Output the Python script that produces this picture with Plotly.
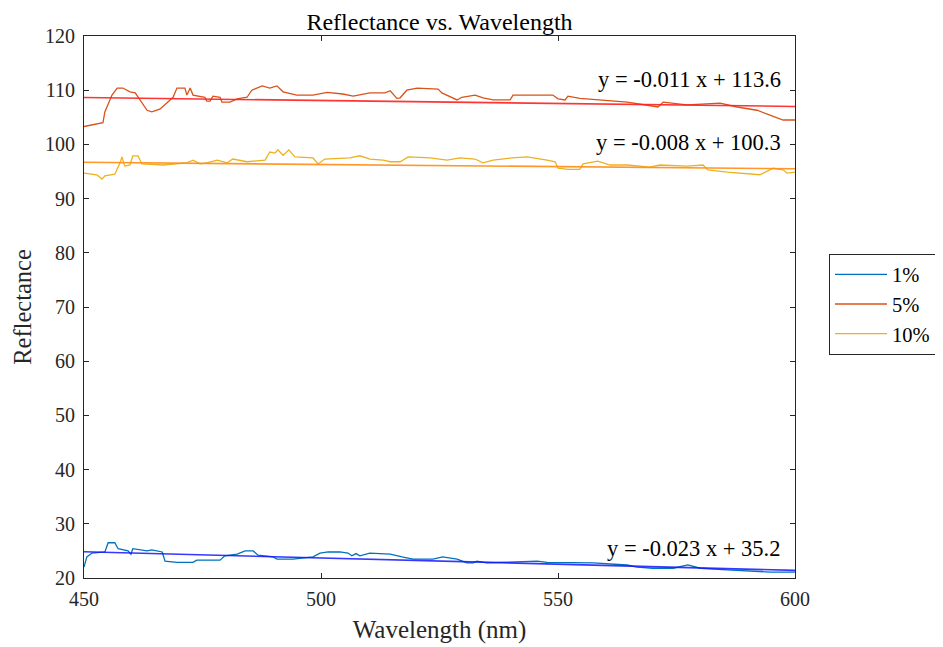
import plotly.graph_objects as go

# ---- data ----
x1 = [450, 450.6, 451.7, 454.4, 455.1, 456.5, 457.2, 459.3, 459.9, 460.3, 463.3, 464.3, 466.5, 467.1,
      469.6, 473.0, 473.8, 478.7, 479.7, 482.3, 484.0, 485.7, 486.7, 489.9, 490.7, 494.1, 498.3, 499.8,
      501.5, 504.0, 505.7, 506.5, 507.4, 508.2, 510.3, 514.6, 517.1, 519.4, 523.6, 525.7, 528.7, 530.8,
      532.1, 532.9, 535.0, 538.4, 545.6, 547.7, 552.5, 557.4, 564.6, 566.7, 570.0, 574.3, 577.4, 580.0,
      585.7, 591.1, 594.7, 600]
y1 = [22.0, 23.9, 24.6, 24.8, 26.5, 26.5, 25.4, 25.0, 24.4, 25.4, 25.0, 25.2, 24.8, 23.1,
      22.9, 22.9, 23.3, 23.3, 24.1, 24.4, 25.0, 25.0, 24.2, 23.9, 23.5, 23.5, 23.9, 24.6,
      24.8, 24.8, 24.6, 24.1, 24.5, 24.1, 24.6, 24.4, 23.9, 23.5, 23.5, 23.9, 23.5, 22.8,
      22.8, 23.1, 22.8, 22.9, 23.1, 22.9, 22.8, 22.8, 22.4, 22.0, 21.8, 21.8, 22.4, 21.8,
      21.5, 21.3, 21.1, 21.1]

x5 = [450, 454.0, 454.4, 455.9, 457.0, 458.2, 459.7, 460.8, 463.3, 464.3, 466.0, 467.7, 468.8, 469.6,
      471.3, 471.7, 472.4, 473.0, 475.5, 475.9, 476.6, 477.2, 478.7, 479.1, 480.8, 482.3, 484.4, 485.4,
      487.6, 489.2, 490.7, 492.0, 494.9, 498.3, 501.3, 504.6, 506.8, 510.3, 513.5, 514.6, 516.0, 516.7,
      518.1, 520.3, 524.7, 525.5, 527.6, 528.7, 529.7, 532.5, 534.2, 536.3, 539.9, 540.5, 548.9, 550.0,
      551.5, 552.1, 554.6, 558.9, 564.6, 571.1, 572.2, 577.2, 584.2, 587.8, 592.0, 594.7, 597.5, 600]
y5 = [103.3, 104.0, 106.0, 109.1, 110.4, 110.4, 109.7, 109.5, 106.3, 106.0, 106.5, 107.8, 108.7, 110.4,
      110.4, 109.1, 110.4, 109.1, 108.7, 108.0, 108.0, 108.9, 108.7, 107.8, 107.8, 108.4, 108.7, 110.0,
      110.8, 110.4, 110.8, 109.7, 109.1, 109.1, 109.6, 109.3, 108.9, 109.5, 109.5, 109.9, 108.5, 108.6,
      110.0, 110.4, 110.2, 109.5, 108.6, 108.2, 108.7, 109.1, 108.6, 108.2, 108.2, 109.1, 109.1, 108.4,
      108.2, 108.9, 108.5, 108.2, 107.8, 106.9, 107.8, 107.3, 107.6, 106.9, 106.3, 105.4, 104.5, 104.5]

x10 = [450, 452.7, 453.8, 454.4, 456.5, 457.6, 458.0, 458.6, 459.7, 460.3, 461.4, 462.2, 466.7, 471.7,
       473.0, 474.5, 475.9, 478.1, 480.2, 481.4, 484.4, 488.2, 489.2, 490.3, 490.9, 492.0, 493.2, 494.5,
       498.3, 499.4, 500.8, 506.1, 508.2, 510.3, 513.1, 514.6, 516.7, 518.4, 523.0, 526.6, 529.3, 532.5,
       534.2, 536.3, 540.3, 543.5, 547.7, 549.4, 550.0, 552.1, 554.6, 555.3, 558.4, 561.0, 564.6, 569.4,
       571.5, 577.2, 580.6, 581.6, 585.7, 589.0, 592.6, 595.4, 597.5, 598.3, 600]
y10 = [94.7, 94.4, 93.6, 94.2, 94.5, 96.6, 97.7, 96.0, 96.2, 97.9, 97.9, 96.4, 96.2, 96.6,
       97.1, 96.4, 96.6, 97.1, 96.6, 97.3, 96.8, 97.1, 98.6, 98.4, 99.0, 98.0, 99.0, 97.7,
       97.5, 96.4, 97.3, 97.5, 97.9, 97.3, 97.1, 96.8, 96.8, 97.7, 97.5, 97.1, 97.5, 97.3,
       96.6, 97.1, 97.5, 97.7, 97.1, 96.8, 95.6, 95.4, 95.4, 96.4, 96.9, 96.2, 96.2, 95.8,
       96.2, 96.0, 96.2, 95.3, 94.9, 94.7, 94.4, 95.6, 95.3, 94.7, 94.9]

series_names = ["1%", "5%", "10%"]
fit_slopes = [-0.023, -0.011, -0.008]
fit_intercepts = [35.2, 113.6, 100.3]
fit_labels = ["y = -0.023 x + 35.2", "y = -0.011 x + 113.6", "y = -0.008 x + 100.3"]
label_y = [25.5, 111.9, 100.3]
x_range = [450, 600]
x_ticks = [450, 500, 550, 600]
y_ticks = [20, 30, 40, 50, 60, 70, 80, 90, 100, 110, 120]

series_colors = ["#0072BD", "#D95319", "#EDB120"]
fit_colors = ["rgba(20,20,255,0.85)", "rgba(255,30,30,0.9)", "rgba(255,140,20,0.9)"]

FONT = "Liberation Serif, Times New Roman, serif"

fig = go.Figure()
data = [(x1, y1), (x5, y5), (x10, y10)]
for i, (xs, ys) in enumerate(data):
    fig.add_trace(go.Scatter(x=xs, y=ys, mode="lines", name=series_names[i],
                             line=dict(color=series_colors[i], width=1.3)))
for i in range(3):
    fx = x_range
    fy = [fit_slopes[i] * v + fit_intercepts[i] for v in fx]
    fig.add_trace(go.Scatter(x=fx, y=fy, mode="lines", showlegend=False,
                             line=dict(color=fit_colors[i], width=1.6), hoverinfo="skip"))
    fig.add_annotation(x=597.5, y=label_y[i], text=fit_labels[i], showarrow=False,
                       xanchor="right", yanchor="middle",
                       font=dict(family=FONT, size=22.5, color="#000000"))

axis_common = dict(showline=True, linecolor="#262626", linewidth=1, mirror="ticks",
                   ticks="inside", ticklen=5, tickcolor="#262626", showgrid=False, zeroline=False,
                   automargin=False,
                   tickfont=dict(family=FONT, size=20, color="#262626"))

W, H = 935, 639  # page has an 8px body margin
fig.update_layout(
    width=W, height=H,
    paper_bgcolor="white", plot_bgcolor="white",
    margin=dict(l=76, r=148, t=28, b=69),
    title=dict(text="Reflectance vs. Wavelength", x=431.5 / W, xanchor="center",
               y=1 - 13.5 / H, yanchor="middle",
               font=dict(family=FONT, size=24, color="#000000")),
    xaxis=dict(range=x_range, tickvals=x_ticks, ticklabelstandoff=3,
               title=dict(text="Wavelength (nm)", font=dict(family=FONT, size=25, color="#262626"),
                          standoff=11),
               **axis_common),
    yaxis=dict(range=[20, 120], tickvals=y_ticks, ticklabelstandoff=4,
               title=dict(text="Reflectance", font=dict(family=FONT, size=24.5, color="#262626"),
                          standoff=6),
               **axis_common),
    legend=dict(xref="container", yref="container", x=821 / W, y=(H - 296) / H,
                xanchor="left", yanchor="middle",
                bordercolor="#262626", borderwidth=1, bgcolor="white",
                font=dict(family=FONT, size=20.5, color="#000000"),
                tracegroupgap=0, itemwidth=52),
    showlegend=True,
)

fig.write_html("out.html")
